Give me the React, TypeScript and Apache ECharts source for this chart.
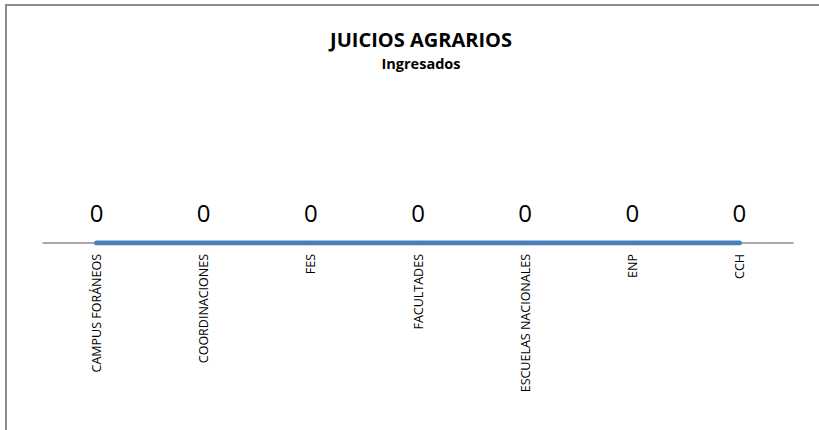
import React, { useEffect, useRef } from "react";
import * as echarts from "echarts";

const categories = [
  "CAMPUS FORÁNEOS",
  "COORDINACIONES",
  "FES",
  "FACULTADES",
  "ESCUELAS NACIONALES",
  "ENP",
  "CCH",
];
const ingresados = [0, 0, 0, 0, 0, 0, 0];
const titleText = "JUICIOS AGRARIOS";
const subtitleText = "Ingresados";

export default function App() {
  const ref = useRef<HTMLDivElement>(null);
  useEffect(() => {
    if (!ref.current) return;
    const chart = echarts.init(ref.current, null, { renderer: "svg" });
    chart.setOption({
      animation: false,
      backgroundColor: "#ffffff",
      title: {
        text: titleText,
        subtext: subtitleText,
        left: 416,
        top: 24,
        textAlign: "center",
        itemGap: 7,
        textStyle: {
          fontFamily: "Open Sans",
          fontWeight: "bold",
          fontSize: 20,
          color: "#000",
        },
        subtextStyle: {
          fontFamily: "Open Sans",
          fontWeight: "bold",
          fontSize: 14.5,
          color: "#000",
        },
      },
      graphic: [
        {
          type: "rect",
          shape: { x: 6, y: 5, width: 900, height: 600 },
          style: { fill: "none", stroke: "#8c8c8c", lineWidth: 2 },
          silent: true,
        },
      ],
      grid: { left: 43, right: 26, top: 120, bottom: 187, containLabel: false },
      xAxis: {
        type: "category",
        data: categories,
        boundaryGap: true,
        axisLine: { show: true, lineStyle: { color: "#8c8c8c", width: 1.5 } },
        axisTick: { show: false },
        axisLabel: {
          rotate: 90,
          interval: 0,
          margin: 11,
          fontFamily: "Open Sans",
          fontSize: 12.5,
          color: "#000",
        },
      },
      yAxis: {
        type: "value",
        min: 0,
        max: 1,
        show: false,
        splitLine: { show: false },
      },
      series: [
        {
          type: "line",
          data: ingresados,
          symbol: "circle",
          symbolSize: 2,
          showSymbol: true,
          itemStyle: { color: "#4a7ebb" },
          lineStyle: { color: "#4a7ebb", width: 5, cap: "round" },
          label: {
            show: true,
            position: "top",
            distance: 18,
            fontFamily: "Open Sans",
            fontSize: 24,
            color: "#000",
          },
        },
      ],
    });
    return () => chart.dispose();
  }, []);
  return (
    <div
      ref={ref}
      style={{ position: "absolute", left: 0, top: 0, width: 819, height: 430 }}
    />
  );
}
